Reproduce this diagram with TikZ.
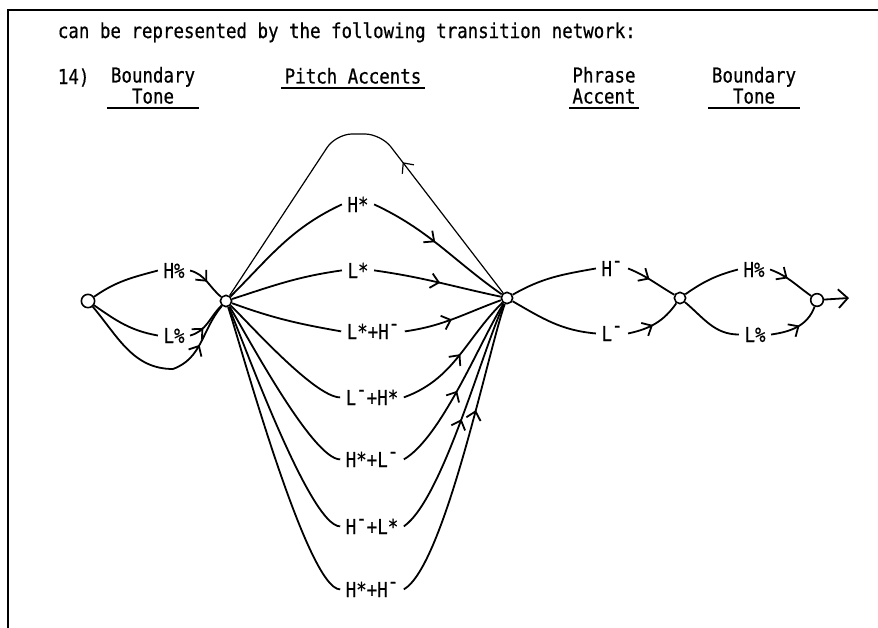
\documentclass[tikz,border=0pt]{standalone}
\usepackage{fontspec}
\usepackage{tikz}
\usetikzlibrary{arrows.meta,decorations.markings}
\newfontfamily\typew[FakeStretch=0.85,FakeBold=0.6]{DejaVu Sans Mono}
\newcommand{\tminus}{\raisebox{0.42em}{-}}

\begin{document}
\begin{tikzpicture}[x=0.75pt,y=-0.75pt,line width=1.35pt,
      state/.style={circle,draw,line width=1.2pt,inner sep=0pt,minimum size=8.5pt},
      tone/.style={font=\typew\fontsize{15.4pt}{15.75pt}\selectfont,inner xsep=3.5pt,inner ysep=1pt,anchor=base},
      head/.style={font=\typew\fontsize{15.4pt}{15.75pt}\selectfont,align=center,inner xsep=2pt,inner ysep=2.5pt,anchor=south},
      arrowat/.style={postaction={decorate},decoration={markings,
          mark=at position #1 with {\arrow{Straight Barb[length=6pt,width=11pt]}}}}]
      \useasboundingbox (0,0) rectangle (878,628);
      \draw[line width=1.4pt] (8,628) -- (8,10) -- (878,10);

      \node[anchor=base west,inner sep=0pt,font=\typew\fontsize{15.4pt}{15.75pt}\selectfont] (intro) at (57,38)
          {can be represented by the following transition network:};
      \node[anchor=base west,inner sep=0pt,font=\typew\fontsize{15.4pt}{15.75pt}\selectfont] (num) at (57,84) {14)};
      \node[head] (bt1) at (153,108) {Boundary\\Tone};
      \node[head] (pa) at (353,88) {Pitch Accents};
      \node[head] (ph) at (604,108) {Phrase\\Accent};
      \node[head] (bt2) at (754,108) {Boundary\\Tone};
      \draw[line width=1.4pt] (bt1.south west) -- (bt1.south east);
      \draw[line width=1.4pt] (pa.south west) -- (pa.south east);
      \draw[line width=1.4pt] (ph.south west) -- (ph.south east);
      \draw[line width=1.4pt] (bt2.south west) -- (bt2.south east);

      % states
      \node[state,minimum size=10pt] (n0) at (88,301) {};
      \node[state] (n1) at (226,301) {};
      \node[state] (n2) at (507,298) {};
      \node[state] (n3) at (680,298) {};
      \node[state,minimum size=9.5pt] (n4) at (817,300) {};

      % tones
      \node[tone] (hb) at (174,278) {H\%};
      \node[tone] (lb) at (174,343) {L\%};
      \node[tone] (hs) at (358,212) {H*};
      \node[tone] (ls) at (358,278) {L*};
      \node[tone] (lshm) at (373,339) {L*+H\tminus};
      \node[tone] (lmhs) at (372,405) {L\tminus+H*};
      \node[tone] (hslm) at (372,467) {H*+L\tminus};
      \node[tone] (hmls) at (372,534) {H\tminus+L*};
      \node[tone] (hshm) at (372,597) {H*+H\tminus};
      \node[tone] (hm) at (612,276) {H\tminus};
      \node[tone] (lm) at (612,341) {L\tminus};
      \node[tone] (hp) at (754,277) {H\%};
      \node[tone] (lp) at (755,342) {L\%};

      % boundary tone
      \draw (n0) to[out=35,in=195] (hb.west);
      \draw[arrowat=0.5] (hb.east) to[out=-15,in=140] (n1);
      \draw (n0) to[out=-35,in=170] (lb.west);
      \draw[arrowat=0.35] (lb.east) to[out=15,in=225] (n1);
      \coordinate (lowbend) at (173,369);
      \draw (n0) to[out=-50,in=180] (lowbend);
      \draw[arrowat=0.45] (lowbend) to[out=20,in=230] (n1);

      % pitch accents
      \coordinate (loopR) at (381,134);
      \coordinate (loopL) at (336,134);
      \draw[line width=0.9pt,rounded corners=12pt,arrowat=0.38] (n2) -- (loopR) -- (loopL) -- (n1);
      \draw (n1) to[out=45,in=205] (hs.west);
      \draw[arrowat=0.46] (hs.east) to[out=-25,in=145] (n2);
      \draw (n1) to[out=18,in=188] (ls.west);
      \draw[arrowat=0.52] (ls.east) to[out=-8,in=168] (n2);
      \draw (n1) to[out=-20,in=170] (lshm.west);
      \draw[arrowat=0.48] (lshm.east) to[out=8,in=200] (n2);
      \draw (n1) to[out=-44,in=180,looseness=0.45] (lmhs.west);
      \draw[arrowat=0.52] (lmhs.east) to[out=20,in=225] (n2);
      \draw (n1) to[out=-58,in=180,looseness=0.38] (hslm.west);
      \draw[arrowat=0.47] (hslm.east) to[out=30,in=238,looseness=0.6] (n2);
      \draw (n1) to[out=-66,in=180,looseness=0.32] (hmls.west);
      \draw[arrowat=0.5] (hmls.east) to[out=35,in=244,looseness=0.5] (n2);
      \draw (n1) to[out=-71,in=180,looseness=0.28] (hshm.west);
      \draw[arrowat=0.64] (hshm.east) to[out=30,in=250,looseness=0.4] (n2);

      % phrase accent
      \draw (n2) to[out=30,in=190] (hm.west);
      \draw[arrowat=0.45] (hm.east) to[out=-22,in=150] (n3);
      \draw (n2) to[out=-30,in=175] (lm.west);
      \draw[arrowat=0.45] (lm.east) to[out=12,in=235] (n3);

      % boundary tone
      \draw (n3) to[out=35,in=195] (hp.west);
      \draw[arrowat=0.4] (hp.east) to[out=-20,in=145] (n4);
      \draw (n3) to[out=-40,in=180] (lp.west);
      \draw[arrowat=0.55] (lp.east) to[out=8,in=250] (n4);
      \coordinate (exit) at (849,298);
      \draw[-{Straight Barb[length=7pt,width=14pt]}] (n4) -- (exit);
      % \noindent
\end{tikzpicture}
\end{document}
